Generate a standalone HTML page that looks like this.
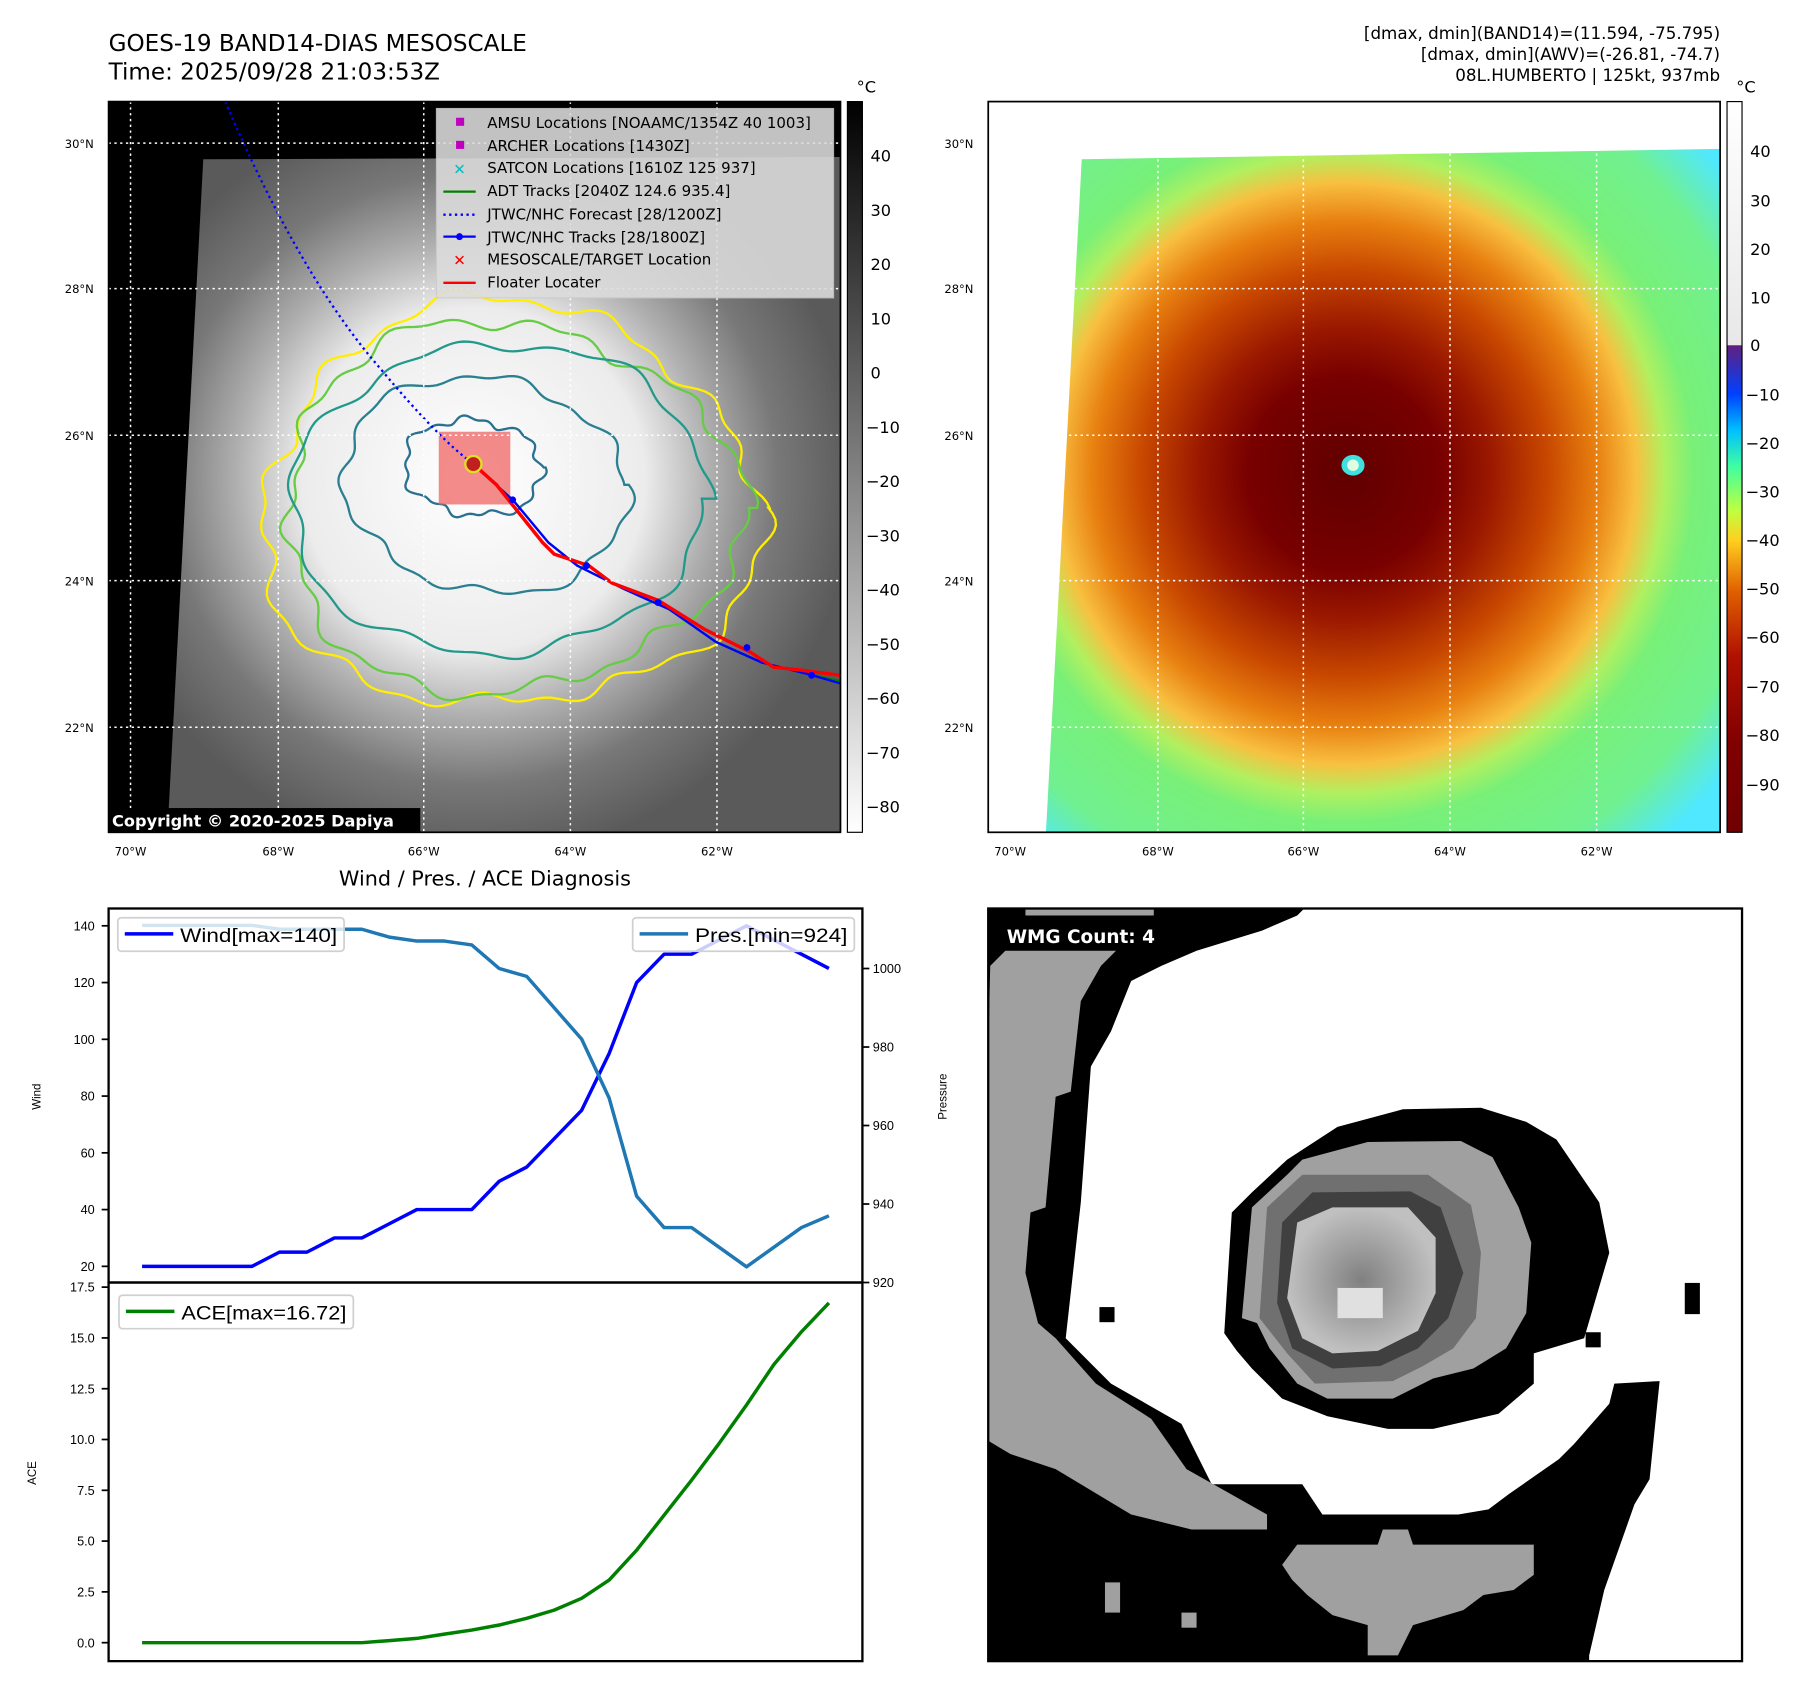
<!DOCTYPE html>
<html><head><meta charset="utf-8"><style>
html,body{margin:0;padding:0;background:#fff;}
svg{display:block;font-family:"DejaVu Sans","Liberation Sans",sans-serif;}
.nar{font-family:"Liberation Sans",sans-serif;}
</style></head><body>
<svg id="root" width="1801" height="1690" viewBox="0 0 1560 1464" xmlns="http://www.w3.org/2000/svg">
<defs>
<clipPath id="clipL"><rect x="94" y="88" width="634" height="633"/></clipPath>
<clipPath id="clipR"><rect x="856" y="88" width="634" height="633"/></clipPath>
<clipPath id="clipW"><rect x="856" y="787" width="653" height="652"/></clipPath>
<radialGradient id="gCloud" cx="410" cy="415" r="330" gradientUnits="userSpaceOnUse">
<stop offset="0" stop-color="#ffffff"/><stop offset="0.45" stop-color="#ececec"/><stop offset="0.62" stop-color="#b0b0b0"/><stop offset="0.8" stop-color="#787878"/><stop offset="1" stop-color="#5a5a5a"/></radialGradient>
<radialGradient id="gIR" cx="1165" cy="410" r="420" gradientUnits="userSpaceOnUse">
<stop offset="0" stop-color="#600000"/><stop offset="0.2" stop-color="#780000"/><stop offset="0.3" stop-color="#9a1800"/><stop offset="0.42" stop-color="#c84800"/><stop offset="0.52" stop-color="#e88010"/><stop offset="0.6" stop-color="#f8c040"/><stop offset="0.66" stop-color="#b0f060"/><stop offset="0.72" stop-color="#78f078"/><stop offset="0.88" stop-color="#70f090"/><stop offset="1" stop-color="#50e8ff"/></radialGradient>
<linearGradient id="cbL" x1="0" y1="0" x2="0" y2="1"><stop offset="0" stop-color="#000"/><stop offset="1" stop-color="#fff"/></linearGradient>
<linearGradient id="cbR" x1="0" y1="0" x2="0" y2="1">
<stop offset="0" stop-color="#ffffff"/><stop offset="0.333" stop-color="#e8e8e8"/><stop offset="0.334" stop-color="#602080"/><stop offset="0.4" stop-color="#0040ff"/><stop offset="0.45" stop-color="#00c0ff"/><stop offset="0.5" stop-color="#40ffa0"/><stop offset="0.56" stop-color="#c0ff40"/><stop offset="0.6" stop-color="#ffd020"/><stop offset="0.67" stop-color="#e06000"/><stop offset="0.76" stop-color="#b01000"/><stop offset="0.88" stop-color="#800000"/><stop offset="1" stop-color="#700000"/></linearGradient>
<radialGradient id="gEye" cx="0.5" cy="0.5" r="0.5"><stop offset="0" stop-color="#808080"/><stop offset="1" stop-color="#c0c0c0"/></radialGradient>
</defs>
<rect width="1560" height="1464" fill="#fff"/>

<!-- Titles -->
<text x="94" y="44" font-size="20">GOES-19 BAND14-DIAS MESOSCALE</text>
<text x="94" y="69" font-size="20">Time: 2025/09/28 21:03:53Z</text>
<g font-size="14.5" text-anchor="end">
<text x="1490" y="34">[dmax, dmin](BAND14)=(11.594, -75.795)</text>
<text x="1490" y="52">[dmax, dmin](AWV)=(-26.81, -74.7)</text>
<text x="1490" y="70">08L.HUMBERTO | 125kt, 937mb</text>
</g>

<!-- Left map -->
<g>
<g clip-path="url(#clipL)">
<rect x="94" y="88" width="634" height="633" fill="#000"/>
<polygon points="176,138 728,136 728,721 145,721" fill="url(#gCloud)"/>
<g id="contours" fill="none" stroke-width="2"></g>
<rect x="380" y="374" width="62" height="63" fill="rgb(240,110,110)" opacity="0.8"/>
<path d="M195,88 Q260,240 330,320 Q380,380 410,402" fill="none" stroke="#0000ff" stroke-width="2" stroke-dasharray="2,3"/>
<polyline points="410,402 445,434 475,470 500,490 540,510 580,528 620,556 660,574 700,584 728,590" fill="none" stroke="#008000" stroke-width="2"/>
<polyline points="410,402 445,434 475,470 500,490 540,510 580,528 620,556 660,574 700,584 728,592" fill="none" stroke="#0000ff" stroke-width="2"/>
<polyline points="410,402 430,420 470,470 480,480 510,490 530,505 570,520 610,545 650,565 670,578 690,580 728,585" fill="none" stroke="#ff0000" stroke-width="3"/>
<circle cx="410" cy="402" r="7" fill="#c02020" stroke="#e0e020" stroke-width="2"/>
<circle cx="444" cy="433" r="3" fill="#0000ff"/><circle cx="508" cy="490" r="3" fill="#0000ff"/><circle cx="570" cy="522" r="3" fill="#0000ff"/><circle cx="647" cy="561" r="3" fill="#0000ff"/><circle cx="703" cy="585" r="3" fill="#0000ff"/>
<g stroke="#fff" stroke-width="1.3" stroke-dasharray="2,3">
<line x1="113" y1="88" x2="113" y2="721"/><line x1="241" y1="88" x2="241" y2="721"/><line x1="367" y1="88" x2="367" y2="721"/><line x1="494" y1="88" x2="494" y2="721"/><line x1="621" y1="88" x2="621" y2="721"/>
<line x1="94" y1="124" x2="728" y2="124"/><line x1="94" y1="250" x2="728" y2="250"/><line x1="94" y1="377" x2="728" y2="377"/><line x1="94" y1="503" x2="728" y2="503"/><line x1="94" y1="630" x2="728" y2="630"/>
</g>
<g>
<rect x="378" y="94" width="344" height="164" fill="#ddd" opacity="0.88" stroke="#ccc"/>
<g font-size="13" fill="#000">
<rect x="395" y="102" width="7" height="7" fill="#c000c0"/><text x="422" y="111">AMSU Locations [NOAAMC/1354Z 40 1003]</text>
<rect x="395" y="122" width="7" height="7" fill="#c000c0"/><text x="422" y="131">ARCHER Locations [1430Z]</text>
<text x="398" y="151" fill="#00c0c0" text-anchor="middle" font-size="13">✕</text><text x="422" y="150">SATCON Locations [1610Z 125 937]</text>
<line x1="384" y1="166" x2="412" y2="166" stroke="#008000" stroke-width="2"/><text x="422" y="170">ADT Tracks [2040Z 124.6 935.4]</text>
<line x1="384" y1="186" x2="412" y2="186" stroke="#0000ff" stroke-width="2" stroke-dasharray="2,3"/><text x="422" y="190">JTWC/NHC Forecast [28/1200Z]</text>
<line x1="384" y1="205" x2="412" y2="205" stroke="#0000ff" stroke-width="2"/><circle cx="398" cy="205" r="3" fill="#0000ff"/><text x="422" y="210">JTWC/NHC Tracks [28/1800Z]</text>
<text x="398" y="230" fill="#ff0000" text-anchor="middle" font-weight="bold" font-size="13">✕</text><text x="422" y="229">MESOSCALE/TARGET Location</text>
<line x1="384" y1="245" x2="412" y2="245" stroke="#ff0000" stroke-width="2"/><text x="422" y="249">Floater Locater</text>
</g></g>
<rect x="94" y="700" width="270" height="21" fill="#000"/>
<text x="97" y="716" font-size="14" font-weight="bold" fill="#fff">Copyright © 2020-2025 Dapiya</text>
</g>
<rect x="94" y="88" width="634" height="633" fill="none" stroke="#000" stroke-width="1.5"/>
</g>
<rect x="734" y="88" width="13" height="633" fill="url(#cbL)" stroke="#000"/>
<g font-size="14">
<text x="742" y="80">°C</text>
<text x="754" y="140">40</text><text x="754" y="187">30</text><text x="754" y="234">20</text><text x="754" y="281">10</text><text x="754" y="328">0</text>
<text x="750" y="375">−10</text><text x="750" y="422">−20</text><text x="750" y="469">−30</text><text x="750" y="516">−40</text><text x="750" y="563">−50</text><text x="750" y="610">−60</text><text x="750" y="657">−70</text><text x="750" y="704">−80</text>
</g>
<g font-size="10">
<text x="56" y="128">30°N</text><text x="56" y="254">28°N</text><text x="56" y="381">26°N</text><text x="56" y="507">24°N</text><text x="56" y="634">22°N</text>
<g text-anchor="middle"><text x="113" y="741">70°W</text><text x="241" y="741">68°W</text><text x="367" y="741">66°W</text><text x="494" y="741">64°W</text><text x="621" y="741">62°W</text></g>
</g>

<!-- Right map -->
<g>
<g clip-path="url(#clipR)">
<rect x="856" y="88" width="634" height="633" fill="#fff"/>
<polygon points="937,138 1490,129 1490,721 906,721" fill="url(#gIR)"/>
<ellipse cx="1172" cy="403" rx="10" ry="9" fill="#40e0e0"/>
<ellipse cx="1172" cy="403" rx="5" ry="5" fill="#e0ffe0"/>
<g stroke="#fff" stroke-width="1.3" stroke-dasharray="2,3">
<line x1="875" y1="88" x2="875" y2="721"/><line x1="1003" y1="88" x2="1003" y2="721"/><line x1="1129" y1="88" x2="1129" y2="721"/><line x1="1256" y1="88" x2="1256" y2="721"/><line x1="1383" y1="88" x2="1383" y2="721"/>
<line x1="856" y1="124" x2="1490" y2="124"/><line x1="856" y1="250" x2="1490" y2="250"/><line x1="856" y1="377" x2="1490" y2="377"/><line x1="856" y1="503" x2="1490" y2="503"/><line x1="856" y1="630" x2="1490" y2="630"/>
</g></g>
<rect x="856" y="88" width="634" height="633" fill="none" stroke="#000" stroke-width="1.5"/>
</g>
<rect x="1496" y="88" width="13" height="633" fill="url(#cbR)" stroke="#000"/>
<g font-size="14">
<text x="1504" y="80">°C</text>
<text x="1516" y="136">40</text><text x="1516" y="179">30</text><text x="1516" y="221">20</text><text x="1516" y="263">10</text><text x="1516" y="304">0</text>
<text x="1512" y="347">−10</text><text x="1512" y="389">−20</text><text x="1512" y="431">−30</text><text x="1512" y="473">−40</text><text x="1512" y="515">−50</text><text x="1512" y="557">−60</text><text x="1512" y="600">−70</text><text x="1512" y="642">−80</text><text x="1512" y="685">−90</text>
</g>
<g font-size="10">
<text x="818" y="128">30°N</text><text x="818" y="254">28°N</text><text x="818" y="381">26°N</text><text x="818" y="507">24°N</text><text x="818" y="634">22°N</text>
<g text-anchor="middle"><text x="875" y="741">70°W</text><text x="1003" y="741">68°W</text><text x="1129" y="741">66°W</text><text x="1256" y="741">64°W</text><text x="1383" y="741">62°W</text></g>
</g>

<!-- Diagnosis chart -->
<text x="420" y="767" font-size="18" text-anchor="middle">Wind / Pres. / ACE Diagnosis</text>
<g id="chart" class="nar"></g>

<!-- WMG -->
<g>
<g clip-path="url(#clipW)">
<rect x="856" y="787" width="653" height="652" fill="#fff"/>
<g transform="translate(849,780) scale(0.436)">
<polygon fill="#000" points="0,0 660,0 630,30 560,60 430,100 360,130 300,160 260,260 220,330 200,600 180,780 170,870 260,960 400,1040 460,1160 640,1160 680,1220 820,1220 950,1220 1010,1210 1050,1180 1150,1110 1180,1080 1250,1000 1260,960 1350,955 1330,1150 1300,1200 1240,1370 1210,1500 1210,1540 0,1540"/>
<polygon fill="#a0a0a0" points="90,10 345,10 345,30 90,30"/>
<polygon fill="#a0a0a0" points="20,130 50,100 270,100 240,130 200,200 180,380 150,390 130,610 100,620 90,740 115,840 150,870 230,960 340,1030 410,1130 570,1220 570,1250 420,1250 300,1220 150,1130 60,1100 10,1070 10,560"/>
<polygon fill="#a0a0a0" points="600,1320 630,1280 790,1280 800,1250 850,1250 860,1280 1100,1280 1100,1340 1060,1370 1000,1380 960,1410 860,1440 830,1500 770,1500 770,1440 700,1420 650,1380 620,1350"/>
<rect x="248" y="1355" width="30" height="60" fill="#a0a0a0"/><rect x="400" y="1415" width="30" height="30" fill="#a0a0a0"/>
<rect x="237" y="808" width="30" height="30" fill="#000"/><rect x="1400" y="760" width="30" height="62" fill="#000"/><rect x="1203" y="858" width="30" height="30" fill="#000"/>
<polygon fill="#000" points="485,860 500,620 540,580 610,515 710,450 840,415 995,412 1085,440 1145,475 1230,600 1250,700 1200,870 1100,900 1100,960 1030,1020 900,1050 810,1050 690,1025 600,990 540,930 510,895"/>
<polygon fill="#a0a0a0" points="520,830 540,610 610,545 640,515 770,480 955,478 1018,510 1070,610 1095,680 1085,820 1045,890 980,930 900,950 820,990 690,990 630,960 575,890 550,840"/>
<polygon fill="#707070" points="555,830 570,610 640,545 890,545 975,605 995,700 985,830 940,890 880,925 820,955 665,960 610,900"/>
<polygon fill="#404040" points="590,800 600,640 660,580 855,578 915,610 960,740 930,830 870,890 795,925 700,930 620,890"/>
<polygon fill="url(#gEye)" points="610,790 630,640 700,610 850,610 905,670 905,780 870,855 790,895 700,900 640,870"/>
<rect x="710" y="770" width="90" height="60" fill="#e0e0e0"/>
</g></g>
<rect x="856" y="787" width="653" height="652" fill="none" stroke="#000" stroke-width="2"/>
<text x="872" y="817" font-size="16" font-weight="bold" fill="#fff">WMG Count: 4</text>
</g>
</svg>
<script>
const wind = [20,20,20,20,20,25,25,30,30,35,40,40,40,50,55,65,75,95,120,130,130,135,140,135,130,125];
const pres = [1011,1011,1011,1011,1011,1010,1010,1010,1010,1008,1007,1007,1006,1000,998,990,982,967,942,934,934,929,924,929,934,937];
const ace = [0,0,0,0,0,0,0,0,0,0.1,0.21,0.42,0.62,0.87,1.2,1.6,2.18,3.08,4.55,6.27,8.0,9.8,11.7,13.7,15.3,16.72];
const windTicks = [20,40,60,80,100,120,140];
const presTicks = [920,940,960,980,1000];
const aceTicks = ["0.0","2.5","5.0","7.5","10.0","12.5","15.0","17.5"];

const NS = "http://www.w3.org/2000/svg";
const chart = document.getElementById('chart');
function xS(i){ return 123 + i*(718-123)/(wind.length-1); }
function yW(v){ return 1097 - (v-20)*(1097-802)/120; }
function yP(v){ return 1111 - (v-920)*(1111-839)/80; }
function yA(v){ return 1423 - v*(1423-1115)/17.5; }
function mk(tag, attrs, parent){ const e=document.createElementNS(NS,tag); for(const k in attrs) e.setAttribute(k,attrs[k]); (parent||chart).appendChild(e); return e; }
function txt(x,y,s,size,anchor,parent){ const t=mk('text',{x:x,y:y,'font-size':size,'text-anchor':anchor||'start'},parent); t.textContent=s; return t; }

let f1 = mk('rect',{x:94,y:787,width:653,height:324,fill:'none',stroke:'#000','stroke-width':2});


let f2 = mk('rect',{x:94,y:1111,width:653,height:328,fill:'none',stroke:'#000','stroke-width':2});



windTicks.forEach(v=>{ const y=yW(v); mk('line',{x1:88,x2:94,y1:y,y2:y,stroke:'#000','stroke-width':1.5}); const t=txt(82,y+4,String(v),11,'end');   });
presTicks.forEach(v=>{ const y=yP(v); mk('line',{x1:747,x2:753,y1:y,y2:y,stroke:'#000','stroke-width':1.5}); const t=txt(756,y+4,String(v),11,'start');   });
aceTicks.forEach(s=>{ const y=yA(parseFloat(s)); mk('line',{x1:88,x2:94,y1:y,y2:y,stroke:'#000','stroke-width':1.5}); const t=txt(82,y+4,s,11,'end');   });

let l1 = txt(35,950,'Wind',10,'middle'); l1.setAttribute('transform','rotate(-90 35 950)');
 
let l2 = txt(820,950,'Pressure',10,'middle'); l2.setAttribute('transform','rotate(-90 820 950)');
 
let l3 = txt(31,1276,'ACE',10,'middle'); l3.setAttribute('transform','rotate(-90 31 1276)');
 

function line(arr, yf, color, name){
  const pts = arr.map((v,i)=>xS(i).toFixed(1)+','+yf(v).toFixed(1)).join(' ');
  const p = mk('polyline',{points:pts,fill:'none',stroke:color,'stroke-width':3,'stroke-linejoin':'round'});
  
  
}
line(wind, yW, '#0000ff', 'wind-line');
line(pres, yP, '#1f77b4', 'pressure-line');
line(ace, yA, '#008000', 'ace-line');

function legend(x,y,w,color,label,name,tl){
  const g = mk('g',{});
  
  
  mk('rect',{x:x,y:y,width:w,height:29,rx:3,fill:'#fff','fill-opacity':0.8,stroke:'#d0d0d0','stroke-width':1.5},g);
  mk('line',{x1:x+6,x2:x+48,y1:y+14,y2:y+14,stroke:color,'stroke-width':3},g);
  const t = txt(x+54,y+21,label,17,'start',g);
  t.setAttribute('textLength', tl);
  t.setAttribute('lengthAdjust','spacingAndGlyphs');
}
legend(102,795,196,'#0000ff','Wind[max=140]','wind-legend',136);
legend(548,795,192,'#1f77b4','Pres.[min=924]','pressure-legend',132);
legend(103,1122,203,'#008000','ACE[max=16.72]','ace-legend',143);

const cg = document.getElementById('contours');
function ring(cx,cy,rx,ry,amp,fr,ph,color,w){
  let d='';
  for(let k=0;k<=240;k++){
    const a=k/240*Math.PI*2;
    const r=1+amp*Math.sin(fr*a+ph)+amp*0.6*Math.sin(3.3*fr*a+ph*2)+amp*0.4*Math.sin(7.1*fr*a);
    const x=cx+rx*r*Math.cos(a), y=cy+ry*r*Math.sin(a);
    d+=(k?'L':'M')+x.toFixed(1)+','+y.toFixed(1);
  }
  const p=document.createElementNS(NS,'path');
  p.setAttribute('d',d+'Z'); p.setAttribute('stroke',color); p.setAttribute('stroke-width',w); p.setAttribute('fill','none');
  
  
  cg.appendChild(p);
}
ring(440,440,215,175,0.05,3,0.5,'#ffee00',2);
ring(440,440,198,160,0.05,3,1.5,'#66cc44',2);
ring(432,432,172,140,0.05,2,2.0,'#22998a',2);
ring(420,420,120,95,0.06,2,0.3,'#2a8090',2);
ring(410,405,55,45,0.1,2,1.1,'#2a7090',2);
</script>
</body></html>
